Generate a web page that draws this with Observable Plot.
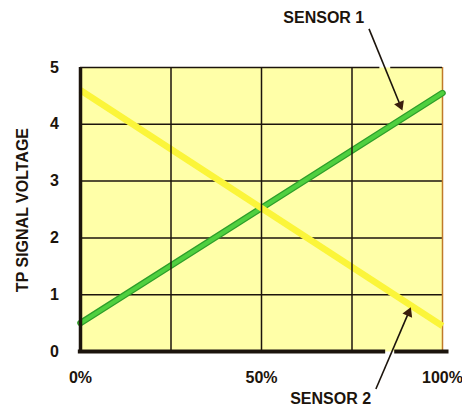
<!DOCTYPE html>
<html>
<head>
<meta charset="utf-8">
<script src="https://cdn.jsdelivr.net/npm/d3@7"></script>
<script src="https://cdn.jsdelivr.net/npm/@observablehq/plot@0.6"></script>
<style>
  html, body { margin: 0; padding: 0; background: #ffffff; }
</style>
</head>
<body>
<div id="chart"></div>
<script>
// Throttle position (%) and signal voltage (V)
const position = [0, 100];
const sensor1 = [0.5, 4.55];
const sensor2 = [4.6, 0.45];

const yTicks = [0, 1, 2, 3, 4, 5];
const xTickValues = [0, 50, 100];
const xTickLabels = ["0%", "50%", "100%"];
const xGrid = [25, 50, 75];
const yGrid = [1, 2, 3, 4];

const yTitle = "TP SIGNAL VOLTAGE";

// annotations: label, label position, arrow start, arrow head (data coords)
const labels = ["SENSOR 1", "SENSOR 2"];
const labelX = [67.2, 69.1];
const labelY = [5.88, -0.84];
const arrowX1 = [79.7, 81.6];
const arrowY1 = [5.68, -0.66];
const arrowX2 = [88.3, 90.6];
const arrowY2 = [4.34, 0.68];
const arrowRotate = [158, 23];

// axis segments (gaps where the arrows cross)
const topSegX1 = [0, 85.7];
const topSegX2 = [82.7, 100];
const bottomSegX1 = [-0.6, 86.8];
const bottomSegX2 = [84.3, 101.8];

const line1 = position.map((p, i) => ({x: p, y: sensor1[i]}));
const line2 = position.map((p, i) => ({x: p, y: sensor2[i]}));
const ann = labels.map((t, i) => ({
  t, lx: labelX[i], ly: labelY[i],
  x1: arrowX1[i], y1: arrowY1[i], x2: arrowX2[i], y2: arrowY2[i], r: arrowRotate[i]
}));

const font = "'Liberation Sans', Arial, Helvetica, sans-serif";
const ink = "#1c140c";

const chart = Plot.plot({
  width: 462,
  height: 407,
  marginLeft: 80,
  marginRight: 20,
  marginTop: 67,
  marginBottom: 56,
  style: {fontFamily: font, background: "#ffffff", overflow: "visible"},
  x: {domain: [0, 100], axis: null},
  y: {domain: [0, 5], axis: null},
  marks: [
    Plot.frame({fill: "#ffffa8", stroke: null}),
    // horizontal grid
    Plot.ruleY(yGrid, {stroke: ink, strokeWidth: 1.5}),
    Plot.ruleX([100], {stroke: "#c07a2a", strokeWidth: 1.5}),
    Plot.ruleY(topSegX1.map((a, i) => ({a, b: topSegX2[i]})), {y: () => 5, x1: "a", x2: "b", stroke: ink, strokeWidth: 1.5}),
    // sensor lines
    Plot.line(line1, {x: "x", y: "y", stroke: "#2e9e2a", strokeWidth: 6.5, strokeLinecap: "round"}),
    Plot.line(line1, {x: "x", y: "y", stroke: "#4fd03f", strokeWidth: 4, strokeLinecap: "round"}),
    Plot.line(line2, {x: "x", y: "y", stroke: "#fbf53a", strokeWidth: 6.5, strokeLinecap: "butt"}),
    // vertical grid over the lines
    Plot.ruleX(xGrid, {stroke: ink, strokeWidth: 1.5}),
    // axes
    Plot.ruleX([0], {y1: 0, y2: 5, stroke: ink, strokeWidth: 3.5}),
    Plot.ruleY(bottomSegX1.map((a, i) => ({a, b: bottomSegX2[i]})), {y: () => 0, x1: "a", x2: "b", stroke: ink, strokeWidth: 4}),
    // tick labels
    Plot.text(yTicks, {x: () => 0, y: d => d, dx: -26, text: d => String(d), fontSize: 16, fontWeight: "bold", fill: ink}),
    Plot.text(xTickValues, {x: d => d, y: () => 0, dy: 26, text: (d, i) => xTickLabels[i], fontSize: 16, fontWeight: "bold", fill: ink}),
    Plot.text([yTitle], {x: () => 0, y: () => 2.49, dx: -58, rotate: -90, text: d => d, fontSize: 16, fontWeight: "bold", fill: ink}),
    // annotations
    Plot.link(ann, {x1: "x1", y1: "y1", x2: "x2", y2: "y2", stroke: ink, strokeWidth: 1.6}),
    Plot.dot(ann, {x: "x2", y: "y2", symbol: "triangle", r: 3.9, rotate: "r", fill: "#3a1e0c", stroke: null}),
    Plot.text(ann, {x: "lx", y: "ly", text: "t", fontSize: 16, fontWeight: "bold", fill: ink})
  ]
});

document.getElementById("chart").appendChild(chart);
</script>
</body>
</html>
